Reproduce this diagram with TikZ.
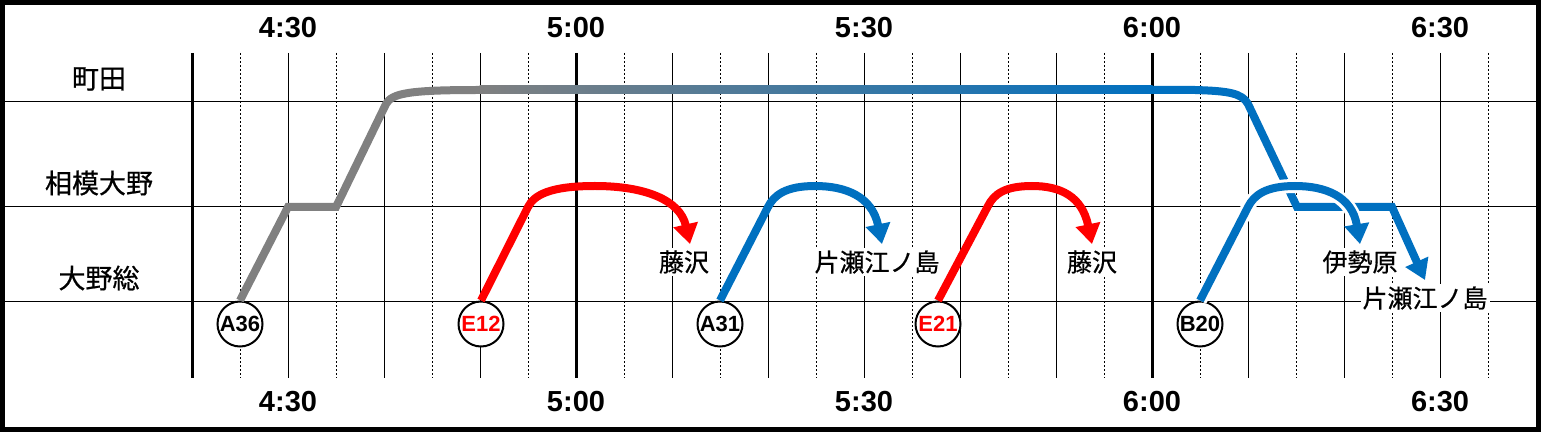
\documentclass[tikz,border=0pt]{standalone}
\usepackage{fontspec}
\setmainfont{Liberation Sans}
\newfontfamily\jpfont[BoldFont={Noto Sans CJK JP},BoldFeatures={FakeBold=0.6}]{Noto Sans CJK JP}
\usetikzlibrary{arrows.meta}
\definecolor{linegray}{RGB}{128,128,128}
\definecolor{lineblue}{RGB}{0,112,192}
\definecolor{linered}{RGB}{255,0,0}
\tikzset{
  gridline/.style={line width=0.5pt},
  halfline/.style={line width=0.5pt,dash pattern=on 1pt off 1pt},
  hourline/.style={line width=1.5pt},
  train/.style={line width=4pt},
  arrowtrain/.style={train,-{Triangle[length=10pt,width=12pt]}},
  casing/.style={draw=white,line width=7pt,shorten >=8pt},
  timelabel/.style={font=\fontsize{14.5}{16}\selectfont\bfseries},
  station/.style={font=\jpfont\bfseries\fontsize{13.5}{15}\selectfont},
  dest/.style={font=\jpfont\bfseries\fontsize{12.5}{14}\selectfont,fill=white,inner sep=1pt},
  trainno/.style={circle,draw,line width=1pt,fill=white,minimum size=22.5pt,inner sep=0pt,font=\fontsize{11}{12}\selectfont\bfseries}
}
\begin{document}
\begin{tikzpicture}[x=0.5pt,y=-0.5pt]
  \useasboundingbox (0,0) rectangle (1541,432);
  % Frame
  \draw[line width=2.5pt] (2.5,2.5) rectangle (1538.5,429.5);

  % Grid
  \foreach \k in {1,3,...,27}
    \draw[halfline] (192+48*\k,53) -- (192+48*\k,378);
  \foreach \k in {2,4,...,26}
    \draw[gridline] (192+48*\k,53) -- (192+48*\k,378);
  \foreach \k in {0,8,20}
    \draw[hourline] (192+48*\k,53) -- (192+48*\k,378);
  \foreach \y in {102,207,302}
    \draw[gridline] (5,\y) -- (1536,\y);

  % Times
  \foreach \t [count=\i from 0] in {4:30,5:00,5:30,6:00,6:30} {
    \node[timelabel] (top\i) at (288+288*\i,28) {\t};
    \node[timelabel] (bottom\i) at (288+288*\i,402) {\t};
  }

  % Stations
  \node[station] (machida) at (99,79) {町田};
  \node[station] (sagamiono) at (99,183) {相模大野};
  \node[station] (onosogo) at (99,278) {大野総};

  % Train numbers
  \node[trainno] (a36) at (240,324) {A36};
  \node[trainno,text=linered] (e12) at (481,324) {E12};
  \node[trainno] (a31) at (720,324) {A31};
  \node[trainno,text=linered] (e21) at (938,324) {E21};
  \node[trainno] (b20) at (1200,324) {B20};

  % Destinations
  \node[dest] (fujisawa1) at (684,262) {藤沢};
  \node[dest] (katase1) at (877,262) {片瀬江ノ島};
  \node[dest] (fujisawa2) at (1092,262) {藤沢};
  \node[dest] (isehara) at (1360,262) {伊勢原};
  \node[dest] (katase2) at (1425,298) {片瀬江ノ島};

  % A36
  \draw[train,linegray] (a36.north) -- (288,207) -- (336,207) -- (386,104)
    .. controls (392,93) and (410,90) .. (480,90);
  \shade[left color=linegray,right color=lineblue] (479.5,86) rectangle (1152.5,94);
  \draw[arrowtrain,lineblue] (1152,90) -- (1195,90)
    .. controls (1228,91) and (1242,93) .. (1248,104) -- (1297,207) -- (1392,207)
    -- ([yshift=2pt]katase2.north);

  % E12, A31, E21
  \draw[arrowtrain,linered] (e12.north) -- (528,207)
    .. controls (534,195) and (550,186) .. (595,186)
    .. controls (645,186) and (680,200) .. ([xshift=3pt,yshift=2pt]fujisawa1.north);
  \draw[arrowtrain,lineblue] (a31.north) -- (768,207)
    .. controls (774,195) and (786,186) .. (815,186)
    .. controls (845,186) and (872,196) .. ([xshift=2.5pt,yshift=2pt]katase1.north);
  \draw[arrowtrain,linered] (e21.north) -- (988,206)
    .. controls (994,194) and (1005,186) .. (1032,186)
    .. controls (1060,186) and (1082,196) .. ([yshift=2pt]fujisawa2.north);

  % B20
  \draw[casing] (b20.north) -- (1248,207)
    .. controls (1254,195) and (1266,186) .. (1295,186)
    .. controls (1325,186) and (1352,196) .. ([yshift=2pt]isehara.north);
  \draw[arrowtrain,lineblue] (b20.north) -- (1248,207)
    .. controls (1254,195) and (1266,186) .. (1295,186)
    .. controls (1325,186) and (1352,196) .. ([yshift=2pt]isehara.north);
\end{tikzpicture}
\end{document}
